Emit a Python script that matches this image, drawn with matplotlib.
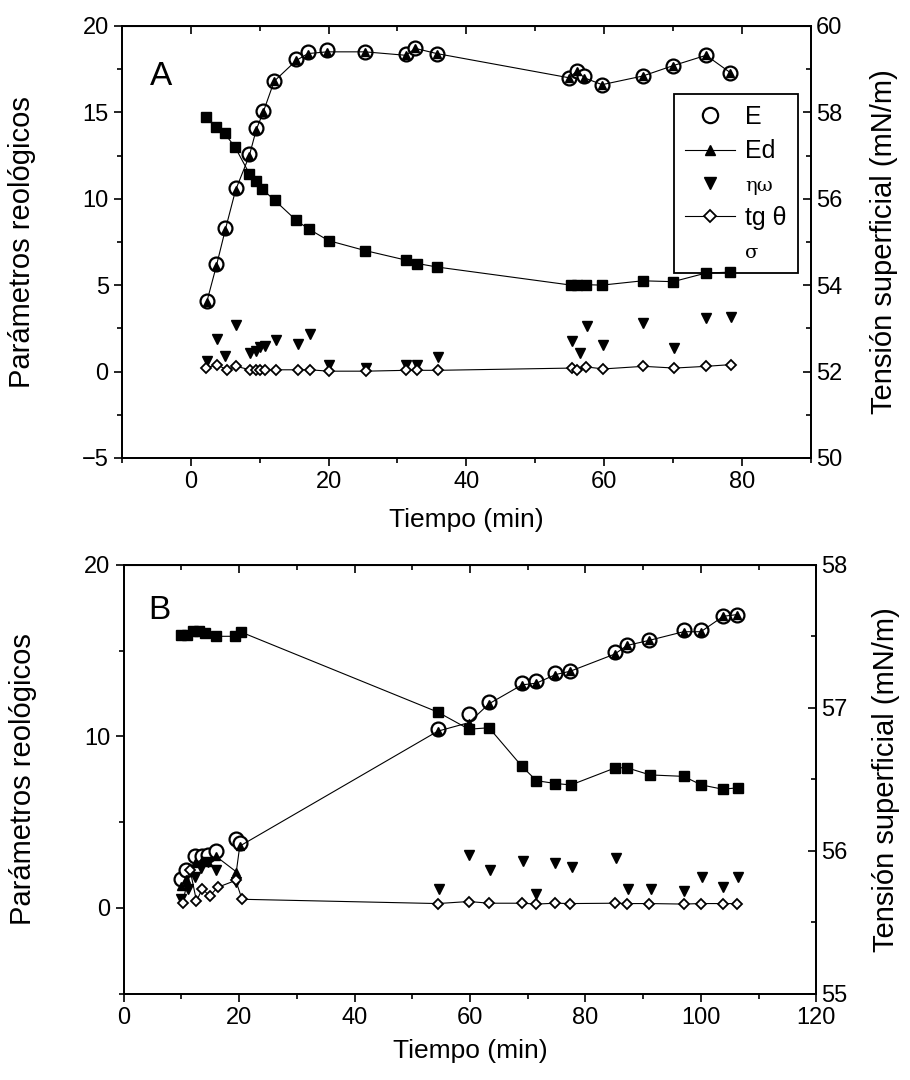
import numpy as np
import matplotlib.pyplot as plt
from matplotlib.lines import Line2D
from matplotlib.ticker import MultipleLocator

plt.rcParams['font.family'] = ['Liberation Sans', 'DejaVu Sans']

# ---- Panel A data ----
tA = [2.3, 3.7, 5.0, 6.5, 8.5, 9.5, 10.5, 12.1, 15.3, 17.0, 19.8, 25.3,
      31.2, 32.6, 35.7, 54.9, 56.1, 57.1, 59.7, 65.6, 70.0, 74.8, 78.3]
E_A = [4.1, 6.2, 8.3, 10.6, 12.6, 14.1, 15.1, 16.8, 18.1, 18.5, 18.6, 18.5,
       18.4, 18.7, 18.4, 17.0, 17.4, 17.1, 16.6, 17.1, 17.7, 18.3, 17.3]
Ed_A = [4.0, 6.1, 8.2, 10.5, 12.5, 14.0, 15.0, 16.8, 18.0, 18.4, 18.5, 18.5,
        18.3, 18.7, 18.4, 17.0, 17.4, 17.0, 16.6, 17.1, 17.7, 18.3, 17.3]
tA_sig = [2.2, 3.6, 4.9, 6.4, 8.5, 9.4, 10.3, 12.2, 15.3, 17.1, 20.0, 25.3,
          31.2, 32.9, 35.7, 55.2, 56.1, 57.3, 59.7, 65.6, 70.0, 74.8, 78.3]
sig_A = [57.90, 57.66, 57.51, 57.20, 56.58, 56.41, 56.23, 55.96, 55.50, 55.30,
         55.03, 54.80, 54.58, 54.50, 54.42, 54.00, 54.00, 54.01, 54.00, 54.10,
         54.08, 54.28, 54.30]
tA_eta = [2.3, 3.8, 5.0, 6.6, 8.6, 9.4, 10.1, 10.8, 12.4, 15.5, 17.3, 20.0,
          25.4, 31.3, 32.9, 35.9, 55.4, 56.5, 57.5, 59.9, 65.7, 70.2, 74.8, 78.4]
eta_A = [0.6, 1.9, 0.9, 2.7, 1.1, 1.2, 1.4, 1.5, 1.8, 1.6, 2.2, 0.4,
         0.2, 0.4, 0.4, 0.85, 1.75, 1.1, 2.66, 1.56, 2.8, 1.37, 3.1, 3.15]
tA_tg = [2.2, 3.8, 5.2, 6.6, 8.6, 9.4, 10.1, 10.8, 12.4, 15.5, 17.3, 20.0,
         25.4, 31.3, 32.9, 35.9, 55.4, 56.1, 57.3, 59.9, 65.7, 70.2, 74.8, 78.4]
tg_A = [0.2, 0.4, 0.1, 0.3, 0.1, 0.1, 0.1, 0.1, 0.1, 0.1, 0.1, 0.02,
        0.02, 0.07, 0.07, 0.07, 0.2, 0.1, 0.27, 0.15, 0.3, 0.2, 0.3, 0.4]

# ---- Panel B data ----
tB = [10.0, 10.8, 12.3, 13.5, 14.6, 16.0, 19.5, 20.1, 54.4, 59.8, 63.3, 69.0,
      71.5, 74.8, 77.4, 85.1, 87.2, 91.1, 97.0, 100.0, 103.9, 106.3]
E_B = [1.7, 2.2, 3.0, 3.0, 3.1, 3.3, 4.0, 3.8, 10.4, 11.3, 12.0, 13.1,
       13.2, 13.7, 13.8, 14.9, 15.3, 15.6, 16.2, 16.2, 17.0, 17.1]
Ed_B = [1.3, 1.7, 2.6, 2.8, 2.7, 3.0, 2.1, 3.6, 10.3, 10.8, 11.9, 13.0,
        13.1, 13.6, 13.8, 14.8, 15.3, 15.6, 16.1, 16.1, 17.0, 17.1]
tB_sig = [10.0, 11.0, 12.0, 13.0, 14.0, 16.0, 19.3, 20.3, 54.4, 59.8, 63.3,
          69.0, 71.5, 74.8, 77.5, 85.2, 87.2, 91.2, 97.0, 100.1, 103.8, 106.4]
sig_B = [57.51, 57.51, 57.54, 57.54, 57.52, 57.50, 57.50, 57.53, 56.97, 56.85,
         56.86, 56.59, 56.49, 56.47, 56.46, 56.58, 56.58, 56.53, 56.52, 56.46,
         56.43, 56.44]
tB_eta = [10.0, 11.2, 12.3, 13.3, 14.6, 16.0, 19.5, 54.6, 59.8, 63.4, 69.1,
          71.5, 74.8, 77.7, 85.3, 87.3, 91.4, 97.1, 100.2, 103.9, 106.4]
eta_B = [0.5, 1.1, 1.8, 2.3, 2.7, 2.2, 1.5, 1.1, 3.1, 2.2, 2.75,
         0.8, 2.6, 2.4, 2.9, 1.1, 1.1, 1.0, 1.8, 1.2, 1.8]
tB_tg = [10.2, 11.5, 12.6, 13.6, 14.9, 16.3, 19.4, 20.5, 54.4, 59.8, 63.3,
         69.0, 71.5, 74.8, 77.4, 85.1, 87.2, 91.1, 97.0, 100.0, 103.9, 106.3]
tg_B = [0.3, 2.2, 0.4, 1.1, 0.7, 1.2, 1.6, 0.5, 0.25, 0.37, 0.27, 0.27,
        0.22, 0.27, 0.25, 0.27, 0.25, 0.25, 0.22, 0.25, 0.25, 0.25]


def draw_panel(ax, t, E, Ed, teta, eta, ttg, tg, tsig, sig):
    ax.plot(t, E, linestyle='none', marker='o', ms=10, mfc='white',
            mec='black', mew=1.6, zorder=3)
    ax.plot(t, Ed, color='black', lw=0.8, marker='^', ms=6, mfc='black',
            mec='black', zorder=4)
    ax.plot(teta, eta, linestyle='none', marker='v', ms=7, color='black',
            zorder=4)
    ax.plot(ttg, tg, color='black', lw=0.8, marker='D', ms=5.5, mfc='white',
            mec='black', mew=1.3, zorder=4)
    ax2 = ax.twinx()
    ax2.plot(tsig, sig, color='black', lw=0.8, marker='s', ms=6.5, zorder=4)
    return ax2


def style(ax, ax2, xmaj, ymaj, y2maj, xlab_y, ylab_r):
    for a in (ax, ax2):
        for s in a.spines.values():
            s.set_linewidth(1.3)
    ax.xaxis.set_major_locator(MultipleLocator(xmaj))
    ax.xaxis.set_minor_locator(MultipleLocator(xmaj / 2))
    ax.yaxis.set_major_locator(MultipleLocator(ymaj))
    ax.yaxis.set_minor_locator(MultipleLocator(ymaj / 2))
    ax2.yaxis.set_major_locator(MultipleLocator(y2maj))
    ax2.yaxis.set_minor_locator(MultipleLocator(y2maj / 2))
    ax.tick_params(which='both', direction='out', labelsize=17, width=1.2)
    ax.tick_params(which='major', length=6)
    ax.tick_params(which='minor', length=3.5)
    ax2.tick_params(which='both', direction='in', labelsize=17, width=1.2)
    ax2.tick_params(which='major', length=6)
    ax2.tick_params(which='minor', length=3.5)
    top = ax.secondary_xaxis('top')
    top.xaxis.set_major_locator(MultipleLocator(xmaj))
    top.xaxis.set_minor_locator(MultipleLocator(xmaj / 2))
    top.tick_params(which='both', direction='in', labeltop=False, width=1.2)
    top.tick_params(which='major', length=6)
    top.tick_params(which='minor', length=3.5)
    ax.set_xlabel('Tiempo (min)', fontsize=19)
    ax.xaxis.set_label_coords(0.5, xlab_y)
    ax.set_ylabel('Parámetros reológicos', fontsize=21)
    ax.yaxis.set_label_coords(-0.125, 0.5)
    ax2.set_ylabel('Tensión superficial (mN/m)', fontsize=21)
    ax2.yaxis.set_label_coords(ylab_r, 0.5)


fig = plt.figure(figsize=(9.1, 10.8), dpi=100)

# Panel A
axA = fig.add_axes([0.134, 0.576, 0.757, 0.400])
axA2 = draw_panel(axA, tA, E_A, Ed_A, tA_eta, eta_A, tA_tg, tg_A, tA_sig, sig_A)
axA.set_xlim(-10, 90)
axA.set_ylim(-5, 20)
axA2.set_ylim(50, 60)
style(axA, axA2, 20, 5, 2, -0.115, 1.086)
axA.text(0.057, 0.884, 'A', transform=axA.transAxes, fontsize=24,
         ha='center', va='center')

handles = [
    Line2D([], [], linestyle='none', marker='o', ms=11, mfc='white',
           mec='black', mew=1.6),
    Line2D([], [], color='black', lw=0.8, marker='^', ms=7),
    Line2D([], [], linestyle='none', marker='v', ms=8, color='black'),
    Line2D([], [], color='black', lw=0.8, marker='D', ms=6.5, mfc='white',
           mec='black', mew=1.3),
    Line2D([], [], linestyle='none'),
]
labels = ['E', 'Ed', 'ηω', 'tg θ', 'σ']
leg = axA2.legend(handles, labels, loc='upper right',
                  bbox_to_anchor=(0.981, 0.843), borderaxespad=0,
                  fontsize=18, frameon=True, fancybox=False,
                  edgecolor='black', framealpha=1, handlelength=2.0,
                  handletextpad=0.4, labelspacing=0.42, borderpad=0.45)
leg.get_frame().set_linewidth(1.3)
leg.set_zorder(2)
for txt in leg.get_texts()[2:]:
    txt.set_family(['DejaVu Serif'])
    txt.set_fontsize(14)
leg.get_texts()[3].set_family(['Liberation Sans', 'DejaVu Serif'])
leg.get_texts()[3].set_fontsize(18)

# Panel B
axB = fig.add_axes([0.136, 0.080, 0.761, 0.397])
axB2 = draw_panel(axB, tB, E_B, Ed_B, tB_eta, eta_B, tB_tg, tg_B, tB_sig, sig_B)
axB.set_xlim(0, 120)
axB.set_ylim(-5, 20)
axB2.set_ylim(55, 58)
style(axB, axB2, 20, 10, 1, -0.105, 1.081)
axB.text(0.052, 0.893, 'B', transform=axB.transAxes, fontsize=24,
         ha='center', va='center')

fig.savefig('out.png', dpi=100)
